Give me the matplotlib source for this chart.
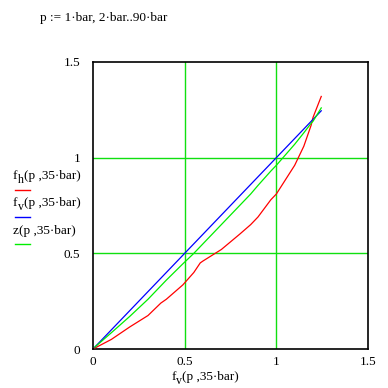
import matplotlib
matplotlib.use("Agg")
import matplotlib.pyplot as plt

plt.rcParams['font.family'] = ['Liberation Serif', 'DejaVu Serif']

fv = [0.01, 0.10, 0.20, 0.30, 0.37, 0.40, 0.49, 0.55, 0.585, 0.60, 0.68, 0.70,
      0.80, 0.86, 0.90, 0.97, 1.00, 1.10, 1.15, 1.19, 1.20, 1.245]
# red: f_h(p, 35 bar)
fh = [0.005, 0.05, 0.115, 0.175, 0.24, 0.26, 0.335, 0.40, 0.45, 0.46, 0.508, 0.52,
      0.60, 0.65, 0.69, 0.78, 0.81, 0.96, 1.06, 1.17, 1.21, 1.32]
# blue: f_v(p, 35 bar)
fv_y = [0.01, 0.10, 0.20, 0.30, 0.37, 0.40, 0.49, 0.55, 0.585, 0.60, 0.68, 0.70,
        0.80, 0.86, 0.90, 0.97, 1.00, 1.10, 1.15, 1.19, 1.20, 1.245]
# green: z(p, 35 bar)
z = [0.01, 0.085, 0.17, 0.26, 0.33, 0.36, 0.445, 0.50, 0.535, 0.55, 0.63, 0.65,
     0.75, 0.81, 0.855, 0.93, 0.96, 1.07, 1.13, 1.18, 1.19, 1.26]

ticks = [0, 0.5, 1, 1.5]
tick_labels = ["0", "0.5", "1", "1.5"]

W = 388
fig = plt.figure(figsize=(3.88, 3.88), dpi=100)
ax = fig.add_axes([93/W, 1-349/W, 275/W, 287/W])

grid_green = '#10e010'
for v in [0.5, 1.0]:
    ax.axvline(v, color=grid_green, lw=1.0, zorder=1)
    ax.axhline(v, color=grid_green, lw=1.0, zorder=1)

lw = 0.9
ax.plot(fv, fh, color='#ff0000', lw=lw, zorder=3)
ax.plot(fv, fv_y, color='#0000ff', lw=lw, zorder=3)
ax.plot(fv, z, color='#00ee00', lw=lw, zorder=3)

ax.set_xlim(0, 1.5)
ax.set_ylim(0, 1.5)
ax.set_xticks(ticks)
ax.set_xticklabels(tick_labels)
ax.set_yticks(ticks)
ax.set_yticklabels(tick_labels)
ax.tick_params(axis='both', length=0, labelsize=9.5)
ax.tick_params(axis='x', pad=5)
ax.tick_params(axis='y', pad=9)
for s in ax.spines.values():
    s.set_linewidth(1.2)
    s.set_color('black')

fs = 9.5
renderer = fig.canvas.get_renderer()


def sub_label(x_px, y_px, main, sub, rest, ha='left'):
    parts = [(main, fs, 0), (sub, fs * 0.9, 4), (rest, fs, 0)]
    texts = []
    x = x_px
    for s, size, dy in parts:
        if not s:
            continue
        t = fig.text(x / W, 1 - (y_px + dy) / W, s, fontsize=size, va='center', ha='left')
        bb = t.get_window_extent(renderer)
        x = bb.x1
        texts.append(t)
    if ha == 'center':
        total = x - x_px
        for t in texts:
            px, py = t.get_position()
            t.set_position((px - total / 2 / W, py))


fig.text(40/W, 1-18/W, "p := 1·bar, 2·bar..90·bar", fontsize=fs, va='center', ha='left')
sub_label(205, 377, "f", "v", "(p ,35·bar)", ha='center')

labels = [("f", "h", "(p ,35·bar)"), ("f", "v", "(p ,35·bar)"), ("z", "", "(p ,35·bar)")]
colors = ['#ff0000', '#0000ff', '#00ee00']
text_y = [176, 203, 231]
line_y = [190, 217, 244]
for (m, s, r), c, ty, ly in zip(labels, colors, text_y, line_y):
    sub_label(13, ty, m, s, r)
    fig.add_artist(plt.Line2D([15/W, 30/W], [1-ly/W, 1-ly/W], color=c, lw=1.0,
                              transform=fig.transFigure))

fig.savefig("out.png", dpi=100)
